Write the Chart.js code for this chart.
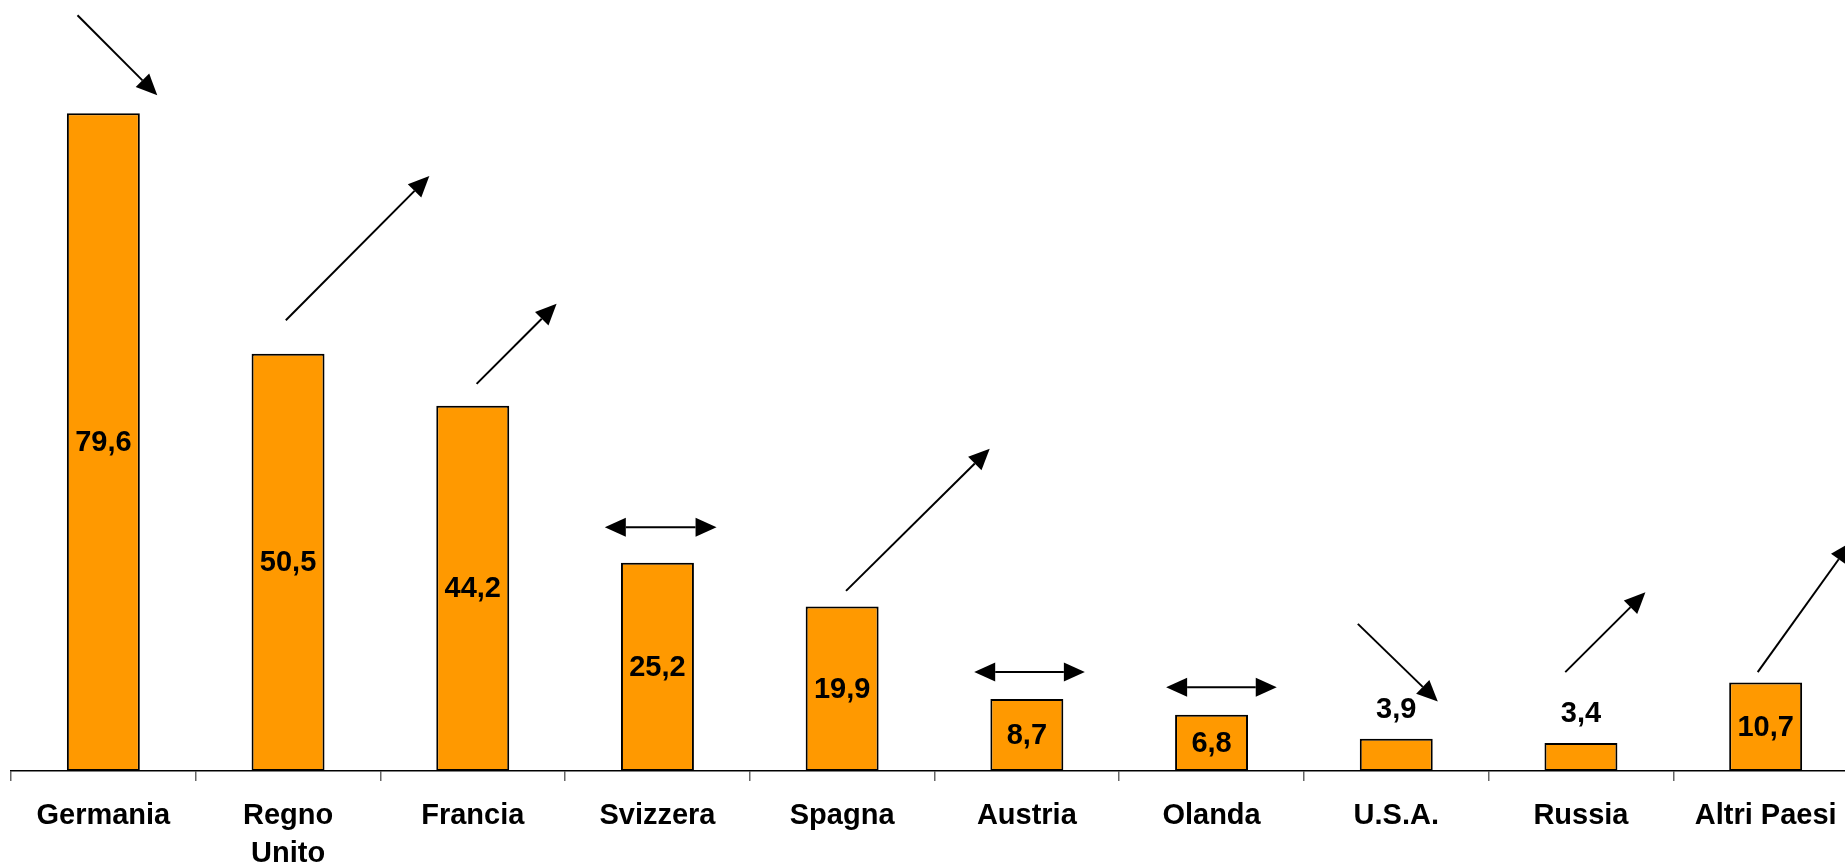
<!DOCTYPE html>
<html lang="it">
<head>
<meta charset="utf-8">
<title>Quote per paese</title>
<script src="https://cdn.jsdelivr.net/npm/chart.js@4.4.1/dist/chart.umd.min.js"></script>
<style>
  html, body { margin: 0; padding: 0; background: #fff; overflow: hidden; }
  /* the original chart is cut off on the right, so the canvas runs past the window */
  #chartWrap { position: absolute; left: 0; top: 0; width: 1870px; height: 866px; }
</style>
</head>
<body>
<div id="chartWrap"><canvas id="paesiChart"></canvas></div>
<script>
// --- Data ---
const paesi = ['Germania', ['Regno', 'Unito'], 'Francia', 'Svizzera', 'Spagna', 'Austria', 'Olanda', 'U.S.A.', 'Russia', 'Altri Paesi'];
const quote = [79.6, 50.5, 44.2, 25.2, 19.9, 8.7, 6.8, 3.9, 3.4, 10.7];
const etichettaSopra = [false, false, false, false, false, false, false, true, true, false]; // small bars: label above

// trend arrows, in chart units: [offset from category centre (in categories), value]
const frecciaDa = [[-0.140, 91.45], [-0.012, 54.55], [0.021, 46.85], [-0.285, 29.5], [0.021, 21.8],
                   [-0.285, 11.97], [-0.246, 10.12], [-0.208, 17.8], [-0.085, 11.97], [-0.043, 11.97]];
const frecciaA  = [[0.292, 81.78], [0.765, 72.0], [0.454, 56.53], [0.320, 29.5], [0.799, 39.0],
                   [0.314, 11.97], [0.353, 10.12], [0.225, 8.41], [0.349, 21.62], [0.462, 27.69]];
const frecciaDoppia = [false, false, false, true, false, true, true, false, false, false];

const FONT = '"Liberation Sans", Arial, sans-serif';

function formatIt(v) {
    return v.toFixed(1).replace('.', ',');
}

function drawHead(ctx, fromX, fromY, tipX, tipY) {
    const ang = Math.atan2(tipY - fromY, tipX - fromX);
    const len = 21, half = 9.5;
    const c = Math.cos(ang), s = Math.sin(ang);
    const bx = tipX - len * c, by = tipY - len * s;
    ctx.beginPath();
    ctx.moveTo(tipX, tipY);
    ctx.lineTo(bx + half * s, by - half * c);
    ctx.lineTo(bx - half * s, by + half * c);
    ctx.closePath();
    ctx.fill();
    return [bx, by];
}

// value labels inside / above bars
const etichettePlugin = {
    id: 'etichette',
    afterDatasetsDraw(chart) {
        const ctx = chart.ctx;
        const meta = chart.getDatasetMeta(0);
        ctx.save();
        ctx.font = 'bold 29px ' + FONT;
        ctx.fillStyle = '#000';
        ctx.textAlign = 'center';
        ctx.textBaseline = 'middle';
        meta.data.forEach((bar, i) => {
            const y = etichettaSopra[i] ? bar.y - 30 : (bar.y + bar.base) / 2;
            ctx.fillText(formatIt(quote[i]), bar.x, y + 1);
        });
        ctx.restore();
    }
};

// trend arrows
const frecceePlugin = {
    id: 'frecce',
    afterDraw(chart) {
        const ctx = chart.ctx;
        const xs = chart.scales.x, ys = chart.scales.y;
        const catW = xs.getPixelForValue(1) - xs.getPixelForValue(0);
        ctx.save();
        ctx.strokeStyle = '#000';
        ctx.fillStyle = '#000';
        ctx.lineWidth = 2;
        quote.forEach((q, i) => {
            const cx = xs.getPixelForValue(i);
            let x1 = cx + frecciaDa[i][0] * catW, y1 = ys.getPixelForValue(frecciaDa[i][1]);
            let x2 = cx + frecciaA[i][0] * catW, y2 = ys.getPixelForValue(frecciaA[i][1]);
            const end = drawHead(ctx, x1, y1, x2, y2);
            let start = [x1, y1];
            if (frecciaDoppia[i]) start = drawHead(ctx, x2, y2, x1, y1);
            ctx.beginPath();
            ctx.moveTo(start[0], start[1]);
            ctx.lineTo(end[0], end[1]);
            ctx.stroke();
        });
        ctx.restore();
    }
};

const ctx = document.getElementById('paesiChart');
new Chart(ctx, {
    type: 'bar',
    data: {
        labels: paesi,
        datasets: [{
            data: quote,
            backgroundColor: '#FF9900',
            borderColor: '#000',
            borderWidth: 2,
            borderSkipped: false,
            categoryPercentage: 1,
            barPercentage: 0.395
        }]
    },
    options: {
        responsive: true,
        maintainAspectRatio: false,
        animation: false,
        devicePixelRatio: 1,
        layout: { padding: { left: 11, right: 12, top: 0, bottom: 0 } },
        plugins: { legend: { display: false }, tooltip: { enabled: false } },
        scales: {
            y: { display: false, min: 0, max: 93.3 },
            x: {
                afterFit: function(scale) { scale.height = 95; },
                border: { display: true, color: '#000', width: 1.5 },
                grid: { offset: true, drawOnChartArea: false, drawTicks: true, tickLength: 10, color: '#666', lineWidth: 1.5 },
                ticks: {
                    color: '#000',
                    padding: 16,
                    maxRotation: 0,
                    autoSkip: false,
                    font: { family: FONT, size: 29, weight: 'bold', lineHeight: 1.3 }
                }
            }
        }
    },
    plugins: [etichettePlugin, frecceePlugin]
});
</script>
</body>
</html>
